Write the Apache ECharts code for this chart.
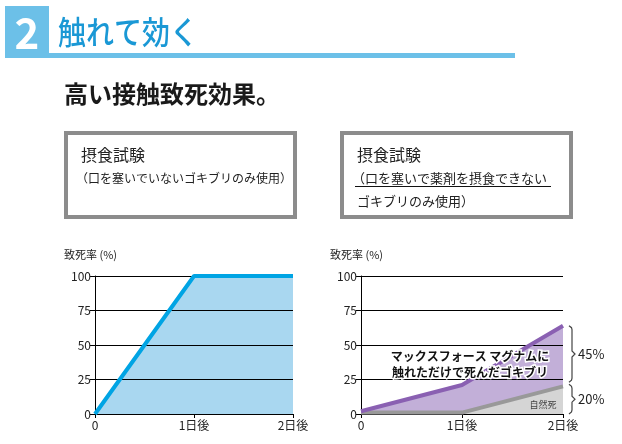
<!DOCTYPE html>
<html><head><meta charset="utf-8">
<script src="https://cdn.jsdelivr.net/npm/echarts@6/dist/echarts.min.js"></script>
<style>html,body{margin:0;padding:0;background:#fff}#c{width:622px;height:444px}</style>
</head><body><div id="c"></div>
<script>
const FONT = '"Noto Sans CJK JP", "Noto Sans", sans-serif';
const days = [0, 1, 2];
const xTickLabels = ['0', '1日後', '2日後'];
const leftRate = [0, 100, 100];
const rightTotal = [2, 21, 64];
const rightNatural = [1, 1, 20];
const braceRanges = [[64, 23], [21.5, 0]];
const braceLabels = ['45%', '20%'];

const pairs = (ys) => days.map((d, i) => [d, ys[i]]);

const chart = echarts.init(document.getElementById('c'), null, {renderer: 'canvas'});

function xAx(gi) {
  return {
    gridIndex: gi, type: 'value', min: 0, max: 2, interval: 1, z: 5,
    axisLine: {show: true, lineStyle: {color: '#000', width: 1}},
    axisTick: {show: true, length: 4, lineStyle: {color: '#000'}},
    splitLine: {show: false},
    axisLabel: {color: '#222', fontSize: 12, fontFamily: FONT, margin: 5,
      formatter: v => xTickLabels[Math.round(v)]}
  };
}
function yAx(gi) {
  return {
    gridIndex: gi, type: 'value', min: 0, max: 100, interval: 25, z: 5,
    axisLine: {show: true, lineStyle: {color: '#000', width: 1}},
    axisTick: {show: true, length: 5, lineStyle: {color: '#000'}},
    splitLine: {show: true, lineStyle: {color: '#000', width: 1}},
    axisLabel: {color: '#222', fontSize: 12, fontFamily: FONT, margin: 4}
  };
}

chart.setOption({
  animation: false,
  grid: [
    {left: 95, top: 276, width: 198, height: 138},
    {left: 361, top: 276, width: 202, height: 138}
  ],
  xAxis: [xAx(0), xAx(1)],
  yAxis: [yAx(0), yAx(1)],
  series: [
    {type: 'line', xAxisIndex: 0, yAxisIndex: 0, data: pairs(leftRate), symbol: 'none', z: 2,
      lineStyle: {width: 0}, areaStyle: {color: '#a9d7f0', opacity: 1}},
    {type: 'line', xAxisIndex: 0, yAxisIndex: 0, data: pairs(leftRate), symbol: 'none', z: 7,
      lineStyle: {width: 4, color: '#00a4e4'}},
    {type: 'line', xAxisIndex: 1, yAxisIndex: 1, data: pairs(rightTotal), symbol: 'none', z: 2,
      lineStyle: {width: 0}, areaStyle: {color: '#c2afd8', opacity: 1}},
    {type: 'line', xAxisIndex: 1, yAxisIndex: 1, data: pairs(rightNatural), symbol: 'none', z: 3,
      lineStyle: {width: 0}, areaStyle: {color: '#d5d5d5', opacity: 1}},
    {type: 'line', xAxisIndex: 1, yAxisIndex: 1, data: pairs(rightNatural), symbol: 'none', z: 7,
      lineStyle: {width: 4, color: '#999999'}},
    {type: 'line', xAxisIndex: 1, yAxisIndex: 1, data: pairs(rightTotal), symbol: 'none', z: 8,
      lineStyle: {width: 4, color: '#8a60b2'}}
  ]
});

const g = [];
// header
g.push({type: 'rect', shape: {x: 5, y: 6, width: 44, height: 52}, style: {fill: '#6cc0e8'}});
g.push({type: 'rect', shape: {x: 49, y: 53, width: 466, height: 5}, style: {fill: '#6cc0e8'}});
g.push({type: 'text', x: 27, y: 33, style: {text: '2', fill: '#fff', font: 'bold 42px ' + FONT, align: 'center', verticalAlign: 'middle'}});
g.push({type: 'text', x: 58, y: 32, scaleY: 1.15, style: {text: '触れて効く', fill: '#1a98d5', font: '500 28px ' + FONT, align: 'left', verticalAlign: 'middle'}});
g.push({type: 'text', x: 64, y: 94, style: {text: '高い接触致死効果。', fill: '#1a1a1a', font: 'bold 24px ' + FONT, align: 'left', verticalAlign: 'middle'}});
// boxes
g.push({type: 'rect', shape: {x: 66, y: 133, width: 229, height: 84}, style: {fill: 'none', stroke: '#8c8c8c', lineWidth: 4}});
g.push({type: 'rect', shape: {x: 342, y: 133, width: 229, height: 84}, style: {fill: 'none', stroke: '#8c8c8c', lineWidth: 4}});
g.push({type: 'text', x: 81, y: 155, style: {text: '摂食試験', fill: '#222', font: '16px ' + FONT, verticalAlign: 'middle'}});
g.push({type: 'text', x: 76, y: 178, style: {text: '（口を塞いでいないゴキブリのみ使用）', fill: '#222', font: '12px ' + FONT, verticalAlign: 'middle'}});
g.push({type: 'text', x: 357, y: 155, style: {text: '摂食試験', fill: '#222', font: '16px ' + FONT, verticalAlign: 'middle'}});
g.push({type: 'text', x: 352, y: 178, style: {text: '（口を塞いで薬剤を摂食できない', fill: '#222', font: '13px ' + FONT, verticalAlign: 'middle'}});
g.push({type: 'line', shape: {x1: 355, y1: 186.5, x2: 551, y2: 186.5}, style: {stroke: '#111', lineWidth: 1.2}});
g.push({type: 'text', x: 357, y: 201, style: {text: 'ゴキブリのみ使用）', fill: '#222', font: '13px ' + FONT, verticalAlign: 'middle'}});
// axis titles
g.push({type: 'text', x: 64, y: 255, style: {text: '致死率 (%)', fill: '#222', font: '11px ' + FONT, verticalAlign: 'middle'}});
g.push({type: 'text', x: 330, y: 255, style: {text: '致死率 (%)', fill: '#222', font: '11px ' + FONT, verticalAlign: 'middle'}});
// annotation
g.push({type: 'text', x: 470, y: 356, z: 20, style: {text: 'マックスフォース マグナムに', fill: '#111', font: 'bold 12px ' + FONT, align: 'center', verticalAlign: 'middle', stroke: '#fff', lineWidth: 3}});
g.push({type: 'text', x: 470, y: 372, z: 20, style: {text: '触れただけで死んだゴキブリ', fill: '#111', font: 'bold 12px ' + FONT, align: 'center', verticalAlign: 'middle', stroke: '#fff', lineWidth: 3}});
g.push({type: 'text', x: 543, y: 405, z: 20, style: {text: '自然死', fill: '#444', font: '9px ' + FONT, align: 'center', verticalAlign: 'middle'}});
// braces
const bx = 569;
braceRanges.forEach((r, i) => {
  const y1 = chart.convertToPixel({gridIndex: 1}, [2, r[0]])[1];
  const y2 = chart.convertToPixel({gridIndex: 1}, [2, r[1]])[1];
  const ym = (y1 + y2) / 2;
  const pts = [[bx, y1], [bx + 2.5, y1 + 2], [bx + 3, y1 + 4], [bx + 3, ym - 3], [bx + 6, ym], [bx + 3, ym + 3], [bx + 3, y2 - 4], [bx + 2.5, y2 - 2], [bx, y2]];
  g.push({type: 'polyline', shape: {points: pts}, style: {fill: null, stroke: '#444', lineWidth: 1.2}});
  g.push({type: 'text', x: 578, y: ym, style: {text: braceLabels[i], fill: '#222', font: '13px ' + FONT, verticalAlign: 'middle'}});
});
chart.setOption({graphic: g});
</script></body></html>
